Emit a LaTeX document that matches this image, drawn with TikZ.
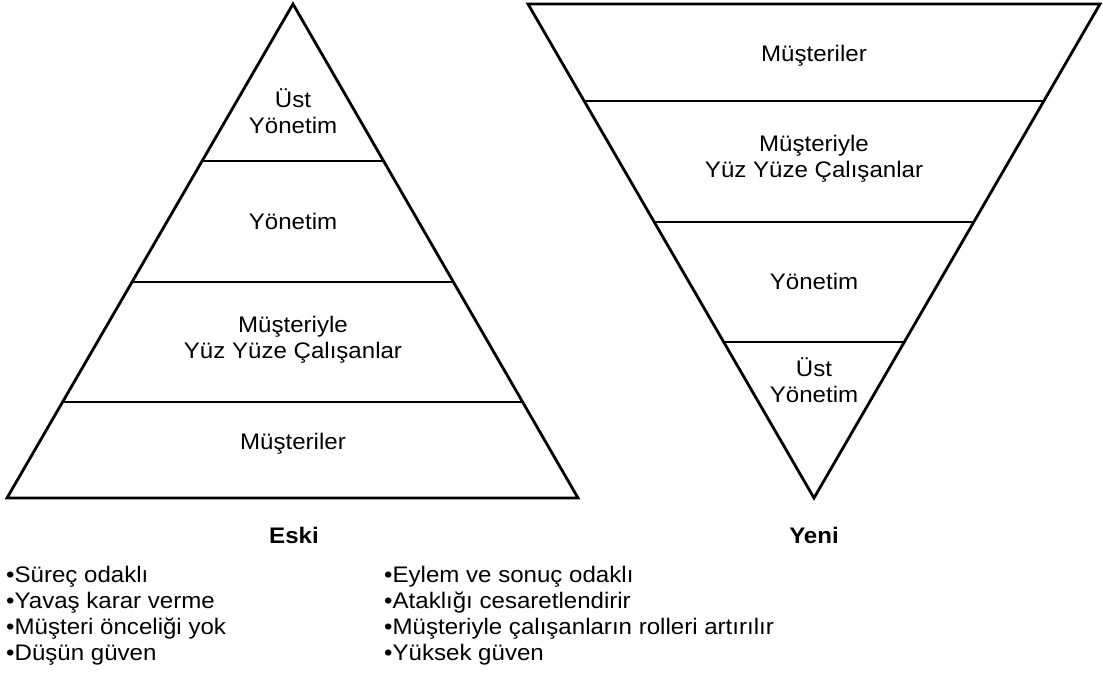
\documentclass[tikz,border=0pt]{standalone}
\usepackage{fontspec}
\setmainfont{Liberation Sans}[FakeStretch=1.07]
\usetikzlibrary{calc}

\begin{document}
\begin{tikzpicture}[x=1pt, y=-1pt,
  outline/.style={line width=2.8pt, line join=miter},
  % multi-line nodes sit on the baseline of their last line
  layer/.style={anchor=base, align=center, inner sep=0pt,
    font=\fontsize{22.5}{26}\selectfont},
  caption/.style={anchor=base, inner sep=0pt,
    font=\fontsize{22.5}{26}\selectfont\bfseries},
  bullets/.style={anchor=base west, align=left, inner sep=0pt,
    font=\fontsize{22.5}{26}\selectfont}]
\useasboundingbox (0,0) rectangle (1103,677);

% Old pyramid (apex up)
\coordinate (oa) at (293,4);
\coordinate (ol) at (7,498);
\coordinate (or) at (578,498);
\draw[outline] (oa) -- (ol) -- (or) -- cycle;
\foreach \f in {0.3178, 0.5628, 0.8057}
  \draw[outline] ($(oa)!\f!(ol)$) -- ($(oa)!\f!(or)$);

\node[layer] (o1) at (293,133) {Üst\\Yönetim};
\node[layer] (o2) at (293,229) {Yönetim};
\node[layer] (o3) at (293,358) {Müşteriyle\\Yüz Yüze Çalışanlar};
\node[layer] (o4) at (293,449) {Müşteriler};

% New pyramid (apex down)
\coordinate (na) at (814,498);
\coordinate (nl) at (528,4);
\coordinate (nr) at (1100,4);
\draw[outline] (nl) -- (nr) -- (na) -- cycle;
\foreach \f in {0.8036, 0.5587, 0.3158}
  \draw[outline] ($(na)!\f!(nl)$) -- ($(na)!\f!(nr)$);

\node[layer] (n1) at (814,61.7) {Müşteriler};
\node[layer] (n2) at (814,177) {Müşteriyle\\Yüz Yüze Çalışanlar};
\node[layer] (n3) at (814,289) {Yönetim};
\node[layer] (n4) at (814,402.7) {Üst\\Yönetim};

% Captions
\node[caption] (eski) at (294,543) {Eski};
\node[caption] (yeni) at (814,543) {Yeni};

% Bullet lists
\node[bullets] (lo) at (6,660) {•Süreç odaklı\\•Yavaş karar verme\\•Müşteri önceliği yok\\•Düşün güven};
\node[bullets] (ln) at (384,660) {•Eylem ve sonuç odaklı\\•Ataklığı cesaretlendirir\\•Müşteriyle çalışanların rolleri artırılır\\•Yüksek güven};
\end{tikzpicture}
\end{document}
